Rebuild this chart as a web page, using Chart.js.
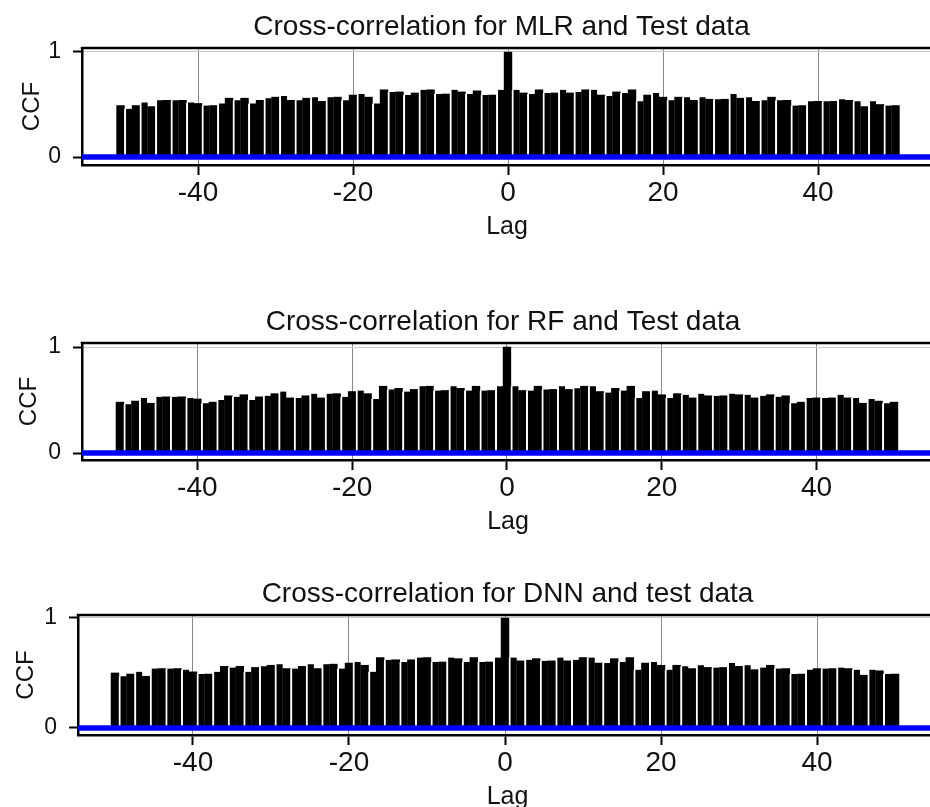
<!DOCTYPE html>
<html>
<head>
<meta charset="utf-8">
<title>Cross-correlation</title>
<script src="https://cdn.jsdelivr.net/npm/chart.js@4.4.0/dist/chart.umd.min.js"></script>
<style>
  html, body { margin: 0; padding: 0; background: #fff; overflow: hidden; }
  body { width: 930px; height: 807px; position: relative; }
  .panel { position: absolute; left: 0; }
  .panel canvas { display: block; }
</style>
</head>
<body>
<div class="panel" style="top:0px"><canvas id="mlrChart" width="1003" height="245"></canvas></div>
<div class="panel" style="top:295px"><canvas id="rfChart" width="1006" height="245"></canvas></div>
<div class="panel" style="top:567px"><canvas id="dnnChart" width="1015" height="248"></canvas></div>

<script>
const lags = [
  -50, -49, -48, -47, -46, -45, -44, -43, -42, -41,
  -40, -39, -38, -37, -36, -35, -34, -33, -32, -31,
  -30, -29, -28, -27, -26, -25, -24, -23, -22, -21,
  -20, -19, -18, -17, -16, -15, -14, -13, -12, -11,
  -10, -9, -8, -7, -6, -5, -4, -3, -2, -1,
  0,
  1, 2, 3, 4, 5, 6, 7, 8, 9, 10,
  11, 12, 13, 14, 15, 16, 17, 18, 19, 20,
  21, 22, 23, 24, 25, 26, 27, 28, 29, 30,
  31, 32, 33, 34, 35, 36, 37, 38, 39, 40,
  41, 42, 43, 44, 45, 46, 47, 48, 49, 50
];
const lagTicks = [-40, -20, 0, 20, 40];
const ccfTicks = [0, 1];
const ciBound = 0.012; // blue bounds, almost on zero

// MLR vs test data
const mlrCcf = [
  0.49, 0.46, 0.49, 0.52, 0.48, 0.54, 0.54, 0.54, 0.54, 0.52,
  0.51, 0.49, 0.49, 0.51, 0.56, 0.54, 0.56, 0.51, 0.54, 0.56,
  0.57, 0.58, 0.54, 0.54, 0.56, 0.57, 0.53, 0.57, 0.57, 0.54,
  0.59, 0.60, 0.57, 0.51, 0.64, 0.62, 0.62, 0.59, 0.61, 0.64,
  0.64, 0.60, 0.60, 0.64, 0.62, 0.60, 0.63, 0.59, 0.59, 0.64,
  1.00,
  0.64, 0.61, 0.60, 0.64, 0.61, 0.61, 0.64, 0.61, 0.62, 0.64,
  0.64, 0.59, 0.58, 0.62, 0.61, 0.64, 0.53, 0.59, 0.61, 0.57,
  0.54, 0.57, 0.57, 0.54, 0.57, 0.55, 0.55, 0.55, 0.60, 0.56,
  0.57, 0.53, 0.54, 0.57, 0.54, 0.54, 0.49, 0.49, 0.53, 0.53,
  0.53, 0.53, 0.55, 0.54, 0.53, 0.48, 0.53, 0.50, 0.49, 0.49
];

// RF vs test data
const rfCcf = [
  0.48, 0.46, 0.49, 0.52, 0.47, 0.53, 0.53, 0.53, 0.53, 0.52,
  0.51, 0.47, 0.48, 0.50, 0.54, 0.53, 0.55, 0.50, 0.53, 0.54,
  0.56, 0.58, 0.52, 0.52, 0.54, 0.56, 0.52, 0.56, 0.56, 0.53,
  0.58, 0.59, 0.56, 0.51, 0.63, 0.60, 0.61, 0.58, 0.60, 0.63,
  0.63, 0.59, 0.59, 0.63, 0.61, 0.59, 0.63, 0.59, 0.59, 0.63,
  1.00,
  0.63, 0.59, 0.59, 0.63, 0.60, 0.60, 0.63, 0.60, 0.61, 0.63,
  0.63, 0.58, 0.57, 0.61, 0.59, 0.63, 0.52, 0.58, 0.59, 0.55,
  0.52, 0.56, 0.55, 0.52, 0.56, 0.54, 0.54, 0.54, 0.56, 0.55,
  0.55, 0.52, 0.54, 0.55, 0.53, 0.54, 0.47, 0.48, 0.52, 0.52,
  0.52, 0.52, 0.55, 0.52, 0.52, 0.47, 0.51, 0.49, 0.47, 0.48
];

// DNN vs test data
const dnnCcf = [
  0.50, 0.47, 0.49, 0.51, 0.47, 0.54, 0.54, 0.54, 0.54, 0.53,
  0.51, 0.49, 0.49, 0.51, 0.56, 0.55, 0.56, 0.51, 0.55, 0.56,
  0.57, 0.58, 0.54, 0.54, 0.56, 0.58, 0.54, 0.58, 0.58, 0.54,
  0.59, 0.60, 0.57, 0.51, 0.64, 0.62, 0.62, 0.60, 0.62, 0.64,
  0.64, 0.60, 0.60, 0.64, 0.63, 0.60, 0.64, 0.60, 0.60, 0.64,
  1.00,
  0.64, 0.61, 0.62, 0.63, 0.61, 0.61, 0.64, 0.61, 0.62, 0.64,
  0.64, 0.59, 0.59, 0.63, 0.60, 0.64, 0.53, 0.59, 0.60, 0.57,
  0.53, 0.57, 0.56, 0.54, 0.57, 0.55, 0.55, 0.55, 0.59, 0.56,
  0.57, 0.53, 0.55, 0.57, 0.54, 0.54, 0.49, 0.49, 0.53, 0.54,
  0.54, 0.54, 0.55, 0.54, 0.53, 0.48, 0.53, 0.52, 0.49, 0.49
];

const fontFamily = "'Liberation Sans', Arial, Helvetica, sans-serif";
const textColor = "#111";

// top edge of the plot box (right edge is cut off in the original)
const topFrame = {
  id: "topFrame",
  afterDraw(chart) {
    const { ctx, chartArea } = chart;
    ctx.save();
    ctx.strokeStyle = "#000";
    ctx.lineWidth = 2.5;
    ctx.beginPath();
    ctx.moveTo(chartArea.left - 1.25, chartArea.top);
    ctx.lineTo(chartArea.right, chartArea.top);
    ctx.stroke();
    ctx.restore();
  }
};

function makeCcfChart(id, title, values, p) {
  const ctx = document.getElementById(id);
  const bars = lags.map((lag, i) => ({ x: lag, y: values[i] }));
  const ciLine = y => [{ x: p.xMin, y }, { x: p.xMax, y }];

  return new Chart(ctx, {
    type: "bar",
    data: {
      datasets: [
        { type: "line", data: ciLine(ciBound), borderColor: "#0000ff", borderWidth: 3, pointRadius: 0, order: 0 },
        { type: "line", data: ciLine(-ciBound), borderColor: "#0000ff", borderWidth: 3, pointRadius: 0, order: 0 },
        {
          type: "bar",
          data: bars,
          backgroundColor: "#000",
          borderColor: "#fff",
          // the scan shows the bars merged two by two, a thin white gap before each odd lag
          borderWidth: c => (lags[c.dataIndex] % 2 !== 0 ? { left: 2, right: 0, top: 0, bottom: 0 } : 0),
          barPercentage: 1,
          categoryPercentage: 1,
          order: 1
        }
      ]
    },
    options: {
      responsive: false,
      animation: false,
      events: [],
      layout: { padding: 0 },
      plugins: {
        legend: { display: false },
        tooltip: { enabled: false },
        title: {
          display: true,
          text: title,
          color: textColor,
          font: { family: fontFamily, size: 28, weight: "normal" },
          padding: { top: 10.2, bottom: 4.2 }
        }
      },
      scales: {
        x: {
          type: "linear",
          min: p.xMin,
          max: p.xMax,
          offset: false,
          afterBuildTicks: s => { s.ticks = lagTicks.map(v => ({ value: v })); },
          afterFit: s => { s.height = p.xHeight; },
          grid: { offset: false, color: "#888", lineWidth: 1, tickLength: 10, tickColor: "#000", tickWidth: 2 },
          border: { color: "#000", width: 2.5 },
          ticks: { color: textColor, font: { family: fontFamily, size: 28 }, padding: 1, maxRotation: 0, autoSkip: false },
          title: {
            display: true,
            text: "Lag",
            color: textColor,
            font: { family: fontFamily, size: 25 },
            padding: { top: 0, bottom: 3 }
          }
        },
        y: {
          min: p.yMin,
          max: p.yMax,
          afterBuildTicks: s => { s.ticks = ccfTicks.map(v => ({ value: v })); },
          afterFit: s => { s.width = p.yWidth; },
          grid: { color: "#c8c8c8", lineWidth: 1, tickLength: 9, tickColor: "#000", tickWidth: 2 },
          border: { color: "#000", width: 2.5 },
          ticks: { color: textColor, font: { family: fontFamily, size: 23 }, padding: 12 },
          title: {
            display: true,
            text: "CCF",
            color: textColor,
            font: { family: fontFamily, size: 24 },
            padding: { top: p.ccfPad, bottom: 0 }
          }
        },
        // empty right axis: reserves the space right of the plot box so the title stays centred on the page
        yRight: {
          position: "right",
          afterFit: s => { s.width = p.rightGap; },
          grid: { display: false, drawOnChartArea: false },
          border: { display: false },
          ticks: { display: false }
        }
      }
    },
    plugins: [topFrame]
  });
}

makeCcfChart("mlrChart", "Cross-correlation for MLR and Test data", mlrCcf,
  { xMin: -54.97, xMax: 54.71, yMin: -0.076, yMax: 1.038, yWidth: 82, rightGap: 71, xHeight: 80, ccfPad: 18 });
makeCcfChart("rfChart", "Cross-correlation for RF and Test data", rfCcf,
  { xMin: -54.9, xMax: 55.17, yMin: -0.066, yMax: 1.038, yWidth: 82, rightGap: 72, xHeight: 80, ccfPad: 15 });
makeCcfChart("dnnChart", "Cross-correlation for DNN and test data", dnnCcf,
  { xMin: -54.74, xMax: 55.38, yMin: -0.064, yMax: 1.027, yWidth: 78, rightGap: 78, xHeight: 80, ccfPad: 12 });
</script>
</body>
</html>
